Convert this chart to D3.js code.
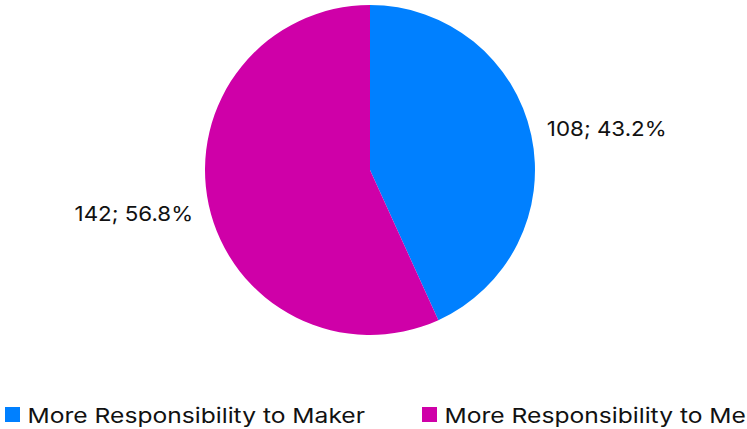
<!DOCTYPE html>
<html>
<head>
<meta charset="utf-8">
<script src="https://cdn.jsdelivr.net/npm/d3@7"></script>
<style>
  html, body { margin: 0; padding: 0; background: #fff; overflow: hidden; }
  svg { display: block; }
  text { font-family: "Inter", "Noto Sans", sans-serif; fill: #111; }
</style>
</head>
<body>
<svg id="chart" width="747" height="429"></svg>
<script>
// Survey responses: who should carry more responsibility
const categories = ["More Responsibility to Maker", "More Responsibility to Me"];
const counts = [108, 142];
const percents = [43.2, 56.8];
const colors = ["#0080FF", "#CF00A8"];

const svg = d3.select("#chart");
const cx = 370, cy = 170, radius = 165;
// widen the glyph run a little for a rounder, geometric look
const stretch = 1.2;

const data = categories.map((c, i) => ({ name: c, count: counts[i], pct: percents[i], color: colors[i] }));

const pie = d3.pie().value(d => d.count).sort(null);
const arcs = pie(data);
const arc = d3.arc().innerRadius(0).outerRadius(radius);
const labelArc = d3.arc().innerRadius(radius + 16).outerRadius(radius + 16);

const g = svg.append("g").attr("transform", `translate(${cx},${cy})`);

g.selectAll("path.slice")
  .data(arcs)
  .join("path")
  .attr("class", "slice")
  .attr("d", arc)
  .attr("fill", d => d.data.color);

function widen(sel, f) {
  sel.each(function () {
    const w = this.getComputedTextLength();
    d3.select(this).attr("textLength", w * f).attr("lengthAdjust", "spacingAndGlyphs");
  });
}

// Value labels outside each slice
const lbl = g.selectAll("text.lbl")
  .data(arcs)
  .join("text")
  .attr("class", "lbl")
  .attr("x", d => labelArc.centroid(d)[0])
  .attr("y", d => labelArc.centroid(d)[1])
  .attr("dy", (d, i) => i === 0 ? -3 : 5)
  .attr("text-anchor", d => ((d.startAngle + d.endAngle) / 2) < Math.PI ? "start" : "end")
  .attr("dominant-baseline", "central")
  .style("font-size", "20.5px")
  .text(d => `${d.data.count}; ${d.data.pct.toFixed(1)}%`);
widen(lbl, 1.09);

// Legend along the bottom
const legendX = d3.scalePoint().domain(categories).range([5, 422]);
const leg = svg.append("g").selectAll("g")
  .data(data)
  .join("g")
  .attr("transform", d => `translate(${legendX(d.name)},407)`);

leg.append("rect")
  .attr("width", 15)
  .attr("height", 15)
  .attr("fill", d => d.color);

const legText = leg.append("text")
  .attr("x", 22.5)
  .attr("y", 8)
  .attr("dominant-baseline", "central")
  .style("font-size", "20.5px")
  .text(d => d.name);
widen(legText, stretch);
</script>
</body>
</html>
